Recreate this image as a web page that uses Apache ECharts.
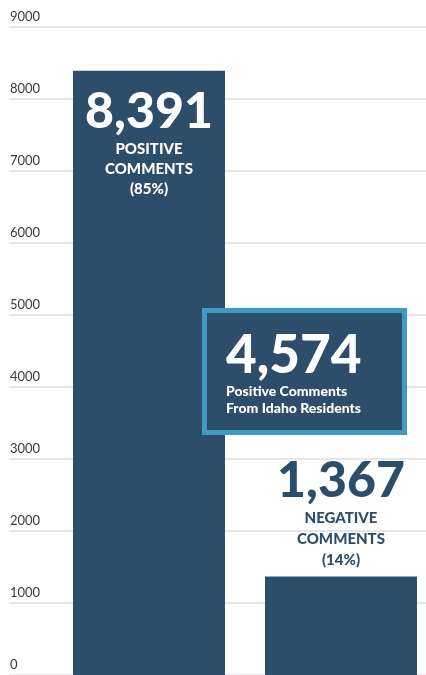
<!DOCTYPE html>
<html>
<head>
<meta charset="utf-8">
<style>
  html, body { margin: 0; padding: 0; background: #fff; }
  #chart { width: 426px; height: 675px; }
</style>
<script src="https://cdn.jsdelivr.net/npm/echarts@6/dist/echarts.min.js"></script>
</head>
<body>
<div id="chart"></div>
<script>
// data
const categories = ['Positive', 'Negative'];
const commentCounts = [8391, 1367];
const countLabels = ['8,391', '1,367'];
const captionLines = [['POSITIVE', 'COMMENTS', '(85%)'], ['NEGATIVE', 'COMMENTS', '(14%)']];
const idahoCount = '4,574';
const idahoCaption = ['Positive Comments', 'From Idaho Residents'];

const navy = '#2d4e6a';
const font = 'Lato';

const chart = echarts.init(document.getElementById('chart'));

function barLabel(i) {
    return '{num|' + countLabels[i] + '}\n' + captionLines[i].map(t => '{cap|' + t + '}').join('\n');
}

chart.setOption({
    animation: false,
    grid: [
        // axis + grid lines
        { left: 9, right: 0, top: 27, bottom: 0, outerBoundsMode: 'none' },
        // bars
        { left: 53, width: 384, top: 27, bottom: 0, outerBoundsMode: 'none' }
    ],
    xAxis: [
        { type: 'category', gridIndex: 0, data: categories, show: false },
        { type: 'category', gridIndex: 1, data: categories, show: false }
    ],
    yAxis: [
        {
            type: 'value',
            gridIndex: 0,
            min: 0,
            max: 9000,
            interval: 1000,
            axisLine: { show: false },
            axisTick: { show: false },
            axisLabel: {
                inside: true,
                margin: 1,
                verticalAlign: 'bottom',
                padding: [0, 0, 4, 0],
                color: '#3a3a3a',
                fontFamily: font,
                fontSize: 13,
                formatter: v => String(v)
            },
            splitLine: { lineStyle: { color: '#e6e6e6', width: 2 } }
        },
        { type: 'value', gridIndex: 1, min: 0, max: 9000, show: false }
    ],
    series: [
        {
            type: 'bar',
            xAxisIndex: 1,
            yAxisIndex: 1,
            barWidth: 152,
            itemStyle: { color: navy },
            data: commentCounts.map((v, i) => ({
                value: v,
                label: i === 0 ? {
                    show: true,
                    position: 'insideTop',
                    distance: 14,
                    formatter: barLabel(0),
                    rich: {
                        num: { color: '#fff', fontFamily: font, fontWeight: 900, fontSize: 50, lineHeight: 54 },
                        cap: { color: '#fff', fontFamily: font, fontWeight: 900, fontSize: 15, lineHeight: 20 }
                    }
                } : {
                    show: true,
                    position: 'top',
                    distance: 6,
                    formatter: barLabel(1),
                    rich: {
                        num: { color: navy, fontFamily: font, fontWeight: 900, fontSize: 50, lineHeight: 54 },
                        cap: { color: navy, fontFamily: font, fontWeight: 900, fontSize: 15, lineHeight: 21 }
                    }
                }
            }))
        }
    ],
    graphic: [
        {
            type: 'rect',
            z: 100,
            shape: { x: 204.5, y: 310.5, width: 200, height: 122 },
            style: { fill: navy, stroke: '#3f9bbf', lineWidth: 5 }
        },
        {
            type: 'text',
            z: 101,
            x: 226,
            y: 328,
            style: {
                text: '{num|' + idahoCount + '}\n{cap|' + idahoCaption[0] + '}\n{cap|' + idahoCaption[1] + '}',
                rich: {
                    num: { fill: '#fff', fontFamily: font, fontWeight: 900, fontSize: 53, lineHeight: 55 },
                    cap: { fill: '#fff', fontFamily: font, fontWeight: 900, fontSize: 14, lineHeight: 17 }
                }
            }
        }
    ]
});

window.addEventListener('resize', () => chart.resize());
</script>
</body>
</html>
